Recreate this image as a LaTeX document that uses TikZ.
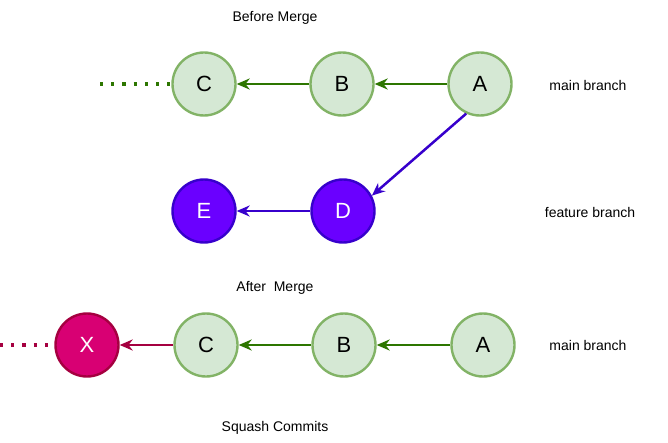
\documentclass[tikz,border=0pt]{standalone}
\usepackage{fontspec}
\setmainfont{Liberation Sans}
\usepackage{tikz}
\usetikzlibrary{arrows.meta}

\definecolor{gfill}{HTML}{D5E8D4}
\definecolor{gline}{HTML}{82B366}
\definecolor{garrow}{HTML}{2D7600}
\definecolor{pfill}{HTML}{6A00FF}
\definecolor{pline}{HTML}{3700CC}
\definecolor{mfill}{HTML}{D80073}
\definecolor{mline}{HTML}{A50040}

\begin{document}
\begin{tikzpicture}[x=1pt,y=-1pt,
    commit/.style={draw=gline, fill=gfill, circle, line width=2.4pt, minimum size=63pt, inner sep=0pt, font=\fontsize{22}{26}\selectfont},
    featurecommit/.style={commit, draw=pline, fill=pfill, text=white},
    lbl/.style={font=\fontsize{14}{16}\selectfont},
    parent/.style={line width=2.5pt, -{Stealth[length=13pt,width=11pt]}}]
      \useasboundingbox (0,0) rectangle (668,443);

      % before merge
      \node (c) at (204,84) [commit] {C};
      \node (b) at (342,84) [commit] {B};
      \node (a) at (480,84) [commit] {A};
      \node (d) at (343,211) [featurecommit] {D};
      \node (e) at (204,211) [featurecommit] {E};
      \coordinate (ctail) at (100,84);

      % after merge
      \node (x2) at (87,345) [featurecommit, draw=mline, fill=mfill] {X};
      \node (c2) at (206,345) [commit] {C};
      \node (b2) at (344,345) [commit] {B};
      \node (a2) at (483,345) [commit] {A};
      \coordinate (xtail) at (0,345);

      \draw (275,18) node[lbl] {Before Merge};
      \draw (588,85) node[lbl] {main branch};
      \draw (590,212) node[lbl] {feature branch};
      \draw (275,288) node[lbl] {After\ \ Merge};
      \draw (588,345) node[lbl] {main branch};
      \draw (275,428) node[lbl] {Squash Commits};

      \path[garrow]
      (b) edge[parent] (c)
      (a) edge[parent] (b)
      (b2) edge[parent] (c2)
      (a2) edge[parent] (b2);
      \path[pline]
      (a.245) edge[parent] (d.28)
      (d) edge[parent] (e);
      \path[mline] (c2) edge[parent] (x2);
      \draw[garrow, line width=3.2pt, dash pattern=on 3.2pt off 8pt] (ctail) to (c);
      \draw[mline, line width=3.2pt, dash pattern=on 3.2pt off 8pt] (xtail) to (x2);
    \end{tikzpicture}
\end{document}
